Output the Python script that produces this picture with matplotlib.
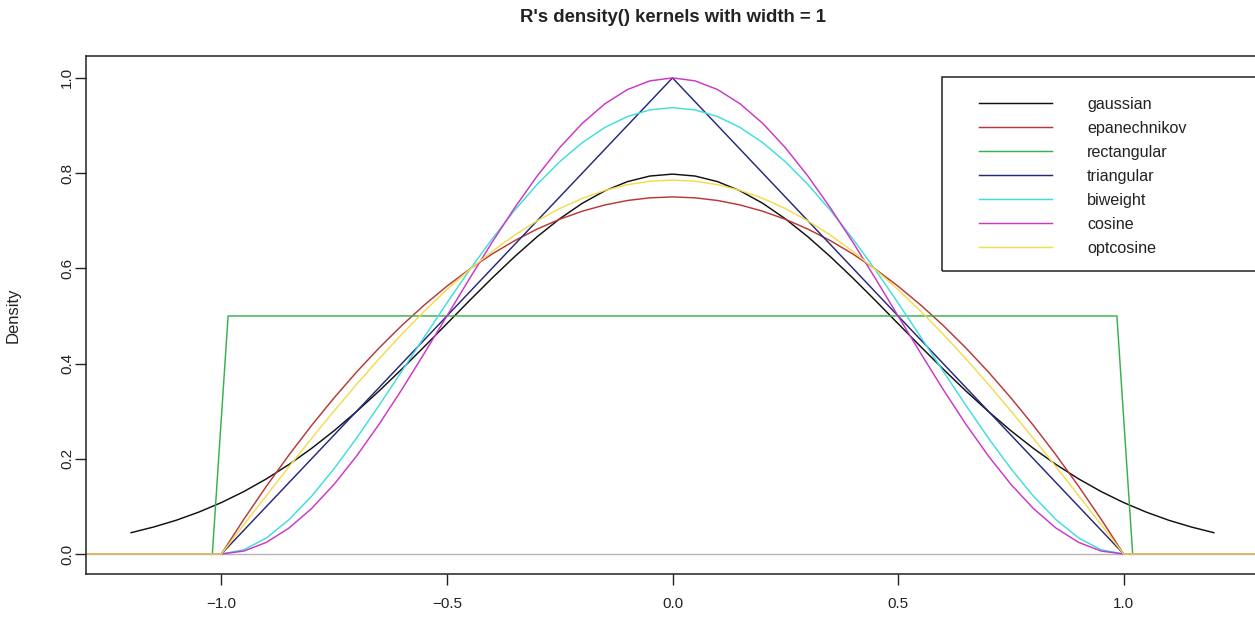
"""R's density() kernels with width = 1, redrawn in matplotlib."""

import matplotlib
matplotlib.use("Agg")
import matplotlib.pyplot as plt
from matplotlib.patches import Rectangle

plt.rcParams["font.family"] = ["Liberation Sans", "DejaVu Sans"]

# x grid for the compact kernels (zero tails out to the plot edges)
KX = [-1.35,
      -1.00, -0.95, -0.90, -0.85, -0.80, -0.75, -0.70, -0.65, -0.60, -0.55,
      -0.50, -0.45, -0.40, -0.35, -0.30, -0.25, -0.20, -0.15, -0.10, -0.05,
      0.00,
      0.05, 0.10, 0.15, 0.20, 0.25, 0.30, 0.35, 0.40, 0.45, 0.50,
      0.55, 0.60, 0.65, 0.70, 0.75, 0.80, 0.85, 0.90, 0.95, 1.00,
      1.35]

EPANECHNIKOV = [0,
                0, .0731, .1425, .2081, .2700, .3281, .3825, .4331, .4800, .5231,
                .5625, .5981, .6300, .6581, .6825, .7031, .7200, .7331, .7425, .7481,
                .7500,
                .7481, .7425, .7331, .7200, .7031, .6825, .6581, .6300, .5981, .5625,
                .5231, .4800, .4331, .3825, .3281, .2700, .2081, .1425, .0731, 0,
                0]

TRIANGULAR = [0,
              0, .05, .10, .15, .20, .25, .30, .35, .40, .45,
              .50, .55, .60, .65, .70, .75, .80, .85, .90, .95,
              1.00,
              .95, .90, .85, .80, .75, .70, .65, .60, .55, .50,
              .45, .40, .35, .30, .25, .20, .15, .10, .05, 0,
              0]

BIWEIGHT = [0,
            0, .0089, .0338, .0722, .1215, .1794, .2438, .3127, .3840, .4561,
            .5273, .5963, .6615, .7219, .7763, .8240, .8640, .8958, .9188, .9328,
            .9375,
            .9328, .9188, .8958, .8640, .8240, .7763, .7219, .6615, .5963, .5273,
            .4561, .3840, .3127, .2438, .1794, .1215, .0722, .0338, .0089, 0,
            0]

COSINE = [0,
          0, .0062, .0245, .0545, .0955, .1464, .2061, .2730, .3455, .4218,
          .5000, .5782, .6545, .7270, .7939, .8536, .9045, .9455, .9755, .9938,
          1.0000,
          .9938, .9755, .9455, .9045, .8536, .7939, .7270, .6545, .5782, .5000,
          .4218, .3455, .2730, .2061, .1464, .0955, .0545, .0245, .0062, 0,
          0]

OPTCOSINE = [0,
             0, .0616, .1229, .1834, .2427, .3006, .3566, .4104, .4616, .5101,
             .5554, .5972, .6354, .6697, .6998, .7256, .7470, .7637, .7757, .7830,
             .7854,
             .7830, .7757, .7637, .7470, .7256, .6998, .6697, .6354, .5972, .5554,
             .5101, .4616, .4104, .3566, .3006, .2427, .1834, .1229, .0616, 0,
             0]

# rectangular kernel: steep sides from the 512-point grid
RECT_X = [-1.35, -1.02, -0.985, 0.985, 1.02, 1.35]
RECT_Y = [0, 0, 0.5, 0.5, 0, 0]

GAUSS_X = [-1.20, -1.15, -1.10, -1.05, -1.00, -0.95, -0.90, -0.85, -0.80, -0.75,
           -0.70, -0.65, -0.60, -0.55, -0.50, -0.45, -0.40, -0.35, -0.30, -0.25,
           -0.20, -0.15, -0.10, -0.05, 0.00, 0.05, 0.10, 0.15, 0.20, 0.25,
           0.30, 0.35, 0.40, 0.45, 0.50, 0.55, 0.60, 0.65, 0.70, 0.75,
           0.80, 0.85, 0.90, 0.95, 1.00, 1.05, 1.10, 1.15, 1.20]
GAUSSIAN = [.0448, .0567, .0709, .0880, .1080, .1312, .1579, .1881, .2218, .2590,
            .2995, .3427, .3884, .4357, .4839, .5322, .5794, .6245, .6664, .7041,
            .7366, .7628, .7821, .7939, .7979, .7939, .7821, .7628, .7366, .7041,
            .6664, .6245, .5794, .5322, .4839, .4357, .3884, .3427, .2995, .2590,
            .2218, .1881, .1579, .1312, .1080, .0880, .0709, .0567, .0448]

SERIES = [
    ("gaussian", GAUSS_X, GAUSSIAN, "#111111"),
    ("epanechnikov", KX, EPANECHNIKOV, "#b8383a"),
    ("rectangular", RECT_X, RECT_Y, "#3bb04a"),
    ("triangular", KX, TRIANGULAR, "#26287a"),
    ("biweight", KX, BIWEIGHT, "#3fdede"),
    ("cosine", KX, COSINE, "#cc36c8"),
    ("optcosine", KX, OPTCOSINE, "#f2dc4e"),
]

W, H = 1255, 617
fig = plt.figure(figsize=(W / 100, H / 100), dpi=100)
fig.patch.set_facecolor("white")

# plot box: left 86px, right ~1259px (cut off), top 56px, bottom 574px
ax = fig.add_axes([86 / W, 1 - 574 / H, (1259 - 86) / W, (574 - 56) / H])

ax.axhline(0, color="#b5b5b5", linewidth=1.0, zorder=1)
for name, xs, ys, col in SERIES:
    ax.plot(xs, ys, color=col, linewidth=1.05, label=name, zorder=2)

ax.set_xlim(-1.3, 1.3)
ax.set_ylim(-0.042, 1.046)
ax.set_xticks([-1.0, -0.5, 0.0, 0.5, 1.0])
ax.set_xticklabels(["\u22121.0", "\u22120.5", "0.0", "0.5", "1.0"])
ax.set_yticks([0.0, 0.2, 0.4, 0.6, 0.8, 1.0])
ax.set_yticklabels(["0.0", "0.2", "0.4", "0.6", "0.8", "1.0"],
                   rotation=90, va="center")

for s in ax.spines.values():
    s.set_color("#222222")
    s.set_linewidth(1.1)
ax.tick_params(axis="both", direction="out", length=7.9, width=1.0,
               color="#222222", labelcolor="#222222", labelsize=11)
ax.tick_params(axis="x", pad=8.5)
ax.tick_params(axis="y", pad=0.5)

ax.set_ylabel("Density", fontsize=12, color="#222222")
ax.yaxis.set_label_coords(-0.056, 0.5)

fig.text(672.5 / W, 1 - 17 / H, "R's density() kernels with width = 1",
         ha="center", va="center", fontsize=13.3, fontweight="bold",
         color="#222222")

# legend box, its right edge runs off the picture like the original
fig.patches.append(Rectangle((942 / W, 1 - 271 / H), 400 / W, (271 - 77) / H,
                             transform=fig.transFigure, fill=False,
                             edgecolor="#222222", linewidth=1.1))
leg = ax.legend(loc="upper left", bbox_to_anchor=(979 / W, 1 - 96.5 / H),
                bbox_transform=fig.transFigure, frameon=False, fontsize=11.6,
                borderpad=0, borderaxespad=0, handlelength=4.55,
                handletextpad=2.15, labelspacing=0.56)
for t in leg.get_texts():
    t.set_color("#222222")

fig.savefig("out.png", dpi=100, facecolor="white")
